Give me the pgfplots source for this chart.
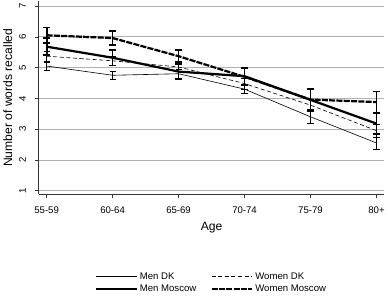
\documentclass[border=0pt]{standalone}
\usepackage{fontspec}
\setmainfont{Liberation Sans}
\usepackage{pgfplots}
\pgfplotsset{compat=1.18}
\begin{document}
\begin{tikzpicture}
\begin{axis}[
  scale only axis,
  width=341bp, height=190bp,
  xmin=-0.12, xmax=5.12,
  ymin=0.89, ymax=7.15,
  axis x line*=bottom, axis y line*=left,
  axis line style={line width=0.6pt, black!80},
  xtick={0,1,2,3,4,5},
  xticklabels={55-59,60-64,65-69,70-74,75-79,80+},
  ytick={1,2,3,4,5,6,7},
  ymajorgrids, grid style={gray!60, line width=0.7pt},
  tick align=outside, tick pos=left,
  major tick length=4bp,
  tick style={black!80, line width=0.6pt},
  /pgf/number format/assume math mode=true,
  tick label style={font=\fontsize{9.5}{11}\selectfont},
  yticklabel style={rotate=90, anchor=south},
  yticklabel shift=5bp,
  xticklabel shift=5bp,
  xlabel={Age}, ylabel={Number of words recalled},
  label style={font=\fontsize{12}{14}\selectfont},
  xlabel style={yshift=-2bp},
  legend columns=2,
  legend cell align=left,
  legend style={at={(0.5,-0.385)}, anchor=north, draw=none, font=\fontsize{9.5}{11}\selectfont,
    /tikz/every even column/.append style={column sep=12bp}, row sep=0.5bp},
  legend image code/.code={\draw[#1] (0bp,0bp) -- (40bp,0bp);},
]
\addplot[black, line width=0.6pt,
  error bars/.cd, y dir=both, y explicit,
  error bar style={line width=0.6pt},
  error mark options={rotate=90, mark size=3bp, line width=0.6pt}]
coordinates {(0,5.05)+-(0,0.13) (1,4.75)+-(0,0.13) (2,4.80)+-(0,0.15) (3,4.30)+-(0,0.15) (4,3.40)+-(0,0.21) (5,2.55)+-(0,0.2)};
\addlegendentry{Men DK}
\addplot[black, line width=0.6pt, dash pattern=on 4bp off 2.5bp,
  error bars/.cd, y dir=both, y explicit,
  error bar style={line width=0.6pt, solid},
  error mark options={rotate=90, mark size=3bp, line width=0.6pt, solid}]
coordinates {(0,5.37)+-(0,0.15) (1,5.22)+-(0,0.15) (2,5.02)+-(0,0.15) (3,4.48)+-(0,0.18) (4,3.78)+-(0,0.2) (5,2.95)+-(0,0.2)};
\addlegendentry{Women DK}
\addplot[black, line width=2.2pt,
  error bars/.cd, y dir=both, y explicit,
  error bar style={line width=1.8pt},
  error mark options={rotate=90, mark size=3.5bp, line width=1.8pt}]
coordinates {(0,5.68)+-(0,0.28) (1,5.32)+-(0,0.25) (2,4.87)+-(0,0.25) (3,4.72)+-(0,0.27) (4,3.95)+-(0,0.35) (5,3.18)+-(0,0.35)};
\addlegendentry{Men Moscow}
\addplot[black, line width=2.2pt, dash pattern=on 6bp off 1.2bp,
  error bars/.cd, y dir=both, y explicit,
  error bar style={line width=1.8pt, solid},
  error mark options={rotate=90, mark size=3.5bp, line width=1.8pt, solid}]
coordinates {(0,6.05)+-(0,0.25) (1,5.96)+-(0,0.22) (2,5.37)+-(0,0.2) (3,4.70)+-(0,0.27) (4,3.96)+-(0,0.35) (5,3.88)+-(0,0.34)};
\addlegendentry{Women Moscow}
\end{axis}
\end{tikzpicture}
\end{document}
